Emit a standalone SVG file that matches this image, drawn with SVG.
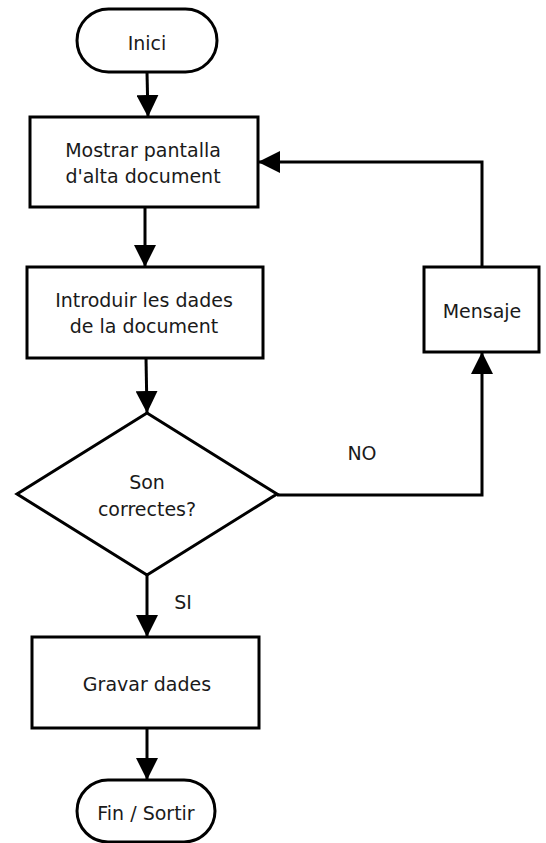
<svg xmlns="http://www.w3.org/2000/svg" width="546" height="843" viewBox="0 0 546 843">
<defs>
<marker id="arr" markerUnits="userSpaceOnUse" markerWidth="22" markerHeight="22" viewBox="0 0 20 20" refX="20" refY="10" orient="auto">
<path d="M0,0 L20,10 L0,20 Z" fill="#000"/>
</marker>
<style>
.s{fill:#fff;stroke:#000;stroke-width:3}
.c{fill:none;stroke:#000;stroke-width:3}
text{font-family:"DejaVu Sans","Verdana",sans-serif;font-size:19px;fill:#1a1a1a;text-anchor:middle}
</style>
</defs>
<rect width="546" height="843" fill="#fff"/>
<g id="connectors">
<path class="c" d="M147,72 L148,117" marker-end="url(#arr)"/>
<path class="c" d="M145,207 L145,267" marker-end="url(#arr)"/>
<path class="c" d="M146,358 L147,413" marker-end="url(#arr)"/>
<path class="c" d="M147,575 L147,637" marker-end="url(#arr)"/>
<path class="c" d="M147,728 L147,780" marker-end="url(#arr)"/>
<path class="c" d="M277,495 L482,495 L482,352" marker-end="url(#arr)"/>
<path class="c" d="M482,267 L482,162 L258,162" marker-end="url(#arr)"/>
</g>
<g id="inici">
<rect class="s" x="77" y="9" width="140" height="63" rx="31.5"/>
<text x="147" y="50">Inici</text>
</g>
<g id="mostrar">
<rect class="s" x="30" y="117" width="228" height="90"/>
<text x="143" y="157">Mostrar pantalla</text>
<text x="143" y="183">d'alta document</text>
</g>
<g id="introduir">
<rect class="s" x="27" y="267" width="236" height="91"/>
<text x="144" y="307">Introduir les dades</text>
<text x="144" y="333">de la document</text>
</g>
<g id="decisio">
<polygon class="s" points="147,413 277,494 147,575 17,494"/>
<text x="147" y="489">Son</text>
<text x="147" y="516">correctes?</text>
</g>
<g id="mensaje">
<rect class="s" x="424" y="267" width="115" height="85"/>
<text x="482" y="318">Mensaje</text>
</g>
<g id="gravar">
<rect class="s" x="32" y="637" width="227" height="91"/>
<text x="147" y="691">Gravar dades</text>
</g>
<g id="fin">
<rect class="s" x="77" y="780" width="138" height="62" rx="31"/>
<text x="146" y="820">Fin / Sortir</text>
</g>
<g id="labels">
<text x="362" y="460">NO</text>
<text x="183" y="609">SI</text>
</g>
</svg>
